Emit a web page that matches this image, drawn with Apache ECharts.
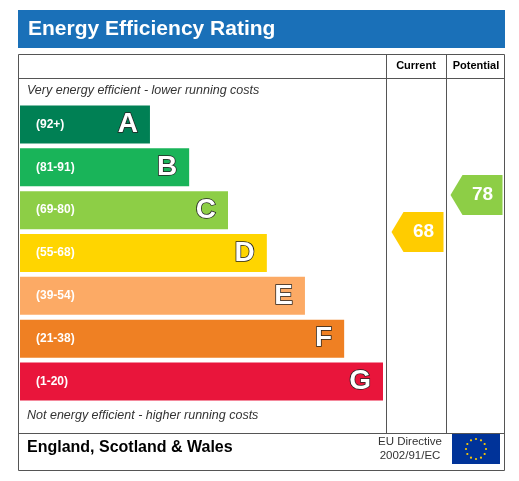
<!DOCTYPE html><html><head><meta charset="utf-8">
<script src="https://cdn.jsdelivr.net/npm/echarts@6/dist/echarts.min.js"></script>
<style>html,body{margin:0;padding:0;background:#fff}#c{width:519px;height:481px}</style></head><body><div id="c"></div>
<script>
const bands=['A','B','C','D','E','F','G'];
const ranges=['(92+)','(81-91)','(69-80)','(55-68)','(39-54)','(21-38)','(1-20)'];
const lengths=[35.8,46.6,57.3,68.0,78.5,89.3,100];
const colors=['#008054','#19b459','#8dce46','#ffd500','#fcaa65','#ef8023','#e9153b'];
const columns=['Current','Potential'];
const ratings=[68,78];
const ratingColors=['#ffcc00','#8dce46'];
const chart=echarts.init(document.getElementById('c'));
const F='Liberation Sans, Arial, sans-serif';
chart.setOption({
 animation:false,
 grid:[{left:20,top:103,width:363,height:300},{left:387,top:103,width:118,height:300}],
 xAxis:[{type:'value',min:0,max:100,show:false,gridIndex:0},
        {type:'category',data:columns,show:false,gridIndex:1}],
 yAxis:[{type:'category',data:bands,inverse:true,show:false,gridIndex:0},
        {type:'value',min:21.8,max:102.9,show:false,gridIndex:1}],
 series:[
  {type:'bar',xAxisIndex:0,yAxisIndex:0,barWidth:38,
   data:lengths.map((v,i)=>({value:v,itemStyle:{color:colors[i]}})),
   label:{show:true,position:'insideLeft',distance:16,color:'#fff',fontWeight:'bold',fontSize:12,fontFamily:F,formatter:p=>ranges[p.dataIndex]}},
  {type:'bar',xAxisIndex:0,yAxisIndex:0,barWidth:38,barGap:'-100%',
   data:lengths,itemStyle:{color:'rgba(0,0,0,0)'},
   label:{show:true,position:'insideRight',distance:12,color:'#fff',fontWeight:'bold',fontSize:28,fontFamily:F,textBorderColor:'#222',textBorderWidth:1.5,formatter:p=>bands[p.dataIndex]}},
  {type:'custom',xAxisIndex:1,yAxisIndex:1,
   data:ratings.map((r,i)=>[i,r]),
   renderItem:(params,api)=>{
     const p=api.coord([api.value(0),api.value(1)]);
     const i=params.dataIndex;
     const w=52,h=40,t=12,x0=p[0]-w/2+1,y0=p[1];
     return {type:'group',children:[
      {type:'polygon',shape:{points:[[x0,y0],[x0+t,y0-h/2],[x0+w,y0-h/2],[x0+w,y0+h/2],[x0+t,y0+h/2]]},style:{fill:ratingColors[i]}},
      {type:'text',style:{text:String(api.value(1)),x:x0+w/2+6,y:y0,align:'center',verticalAlign:'middle',fill:'#fff',font:'bold 19px '+F}}
     ]};
   }}
 ],
 graphic:[
  {type:'rect',shape:{x:18,y:10,width:487,height:38},style:{fill:'#1a70b8'}},
  {type:'text',style:{text:'Energy Efficiency Rating',x:28,y:29,verticalAlign:'middle',fill:'#fff',font:'bold 21px '+F}},
  {type:'rect',shape:{x:18.5,y:54.5,width:486,height:416},style:{fill:'none',stroke:'#555',lineWidth:1}},
  {type:'line',shape:{x1:18,y1:78.5,x2:505,y2:78.5},style:{stroke:'#555'}},
  {type:'line',shape:{x1:18,y1:433.5,x2:505,y2:433.5},style:{stroke:'#555'}},
  {type:'line',shape:{x1:386.5,y1:54,x2:386.5,y2:433},style:{stroke:'#555'}},
  {type:'line',shape:{x1:446.5,y1:54,x2:446.5,y2:433},style:{stroke:'#555'}},
  {type:'text',style:{text:'Current',x:416,y:66,align:'center',verticalAlign:'middle',fill:'#000',font:'bold 11px '+F}},
  {type:'text',style:{text:'Potential',x:476,y:66,align:'center',verticalAlign:'middle',fill:'#000',font:'bold 11px '+F}},
  {type:'text',style:{text:'Very energy efficient - lower running costs',x:27,y:91,verticalAlign:'middle',fill:'#333',font:'italic 12.5px '+F}},
  {type:'text',style:{text:'Not energy efficient - higher running costs',x:27,y:416,verticalAlign:'middle',fill:'#333',font:'italic 12.5px '+F}},
  {type:'text',style:{text:'England, Scotland & Wales',x:27,y:448,verticalAlign:'middle',fill:'#000',font:'bold 16px '+F}},
  {type:'text',style:{text:'EU Directive\n2002/91/EC',x:410,y:449,align:'center',verticalAlign:'middle',fill:'#333',font:'11.5px '+F,lineHeight:14}},
  {type:'rect',shape:{x:452,y:434,width:48,height:30},style:{fill:'#003399'}},
  ...Array.from({length:12},(_,k)=>({type:'circle',shape:{cx:476+10*Math.cos(k*Math.PI/6),cy:449+10*Math.sin(k*Math.PI/6),r:1.1},style:{fill:'#ffcc00'}}))
 ]
});
</script></body></html>
